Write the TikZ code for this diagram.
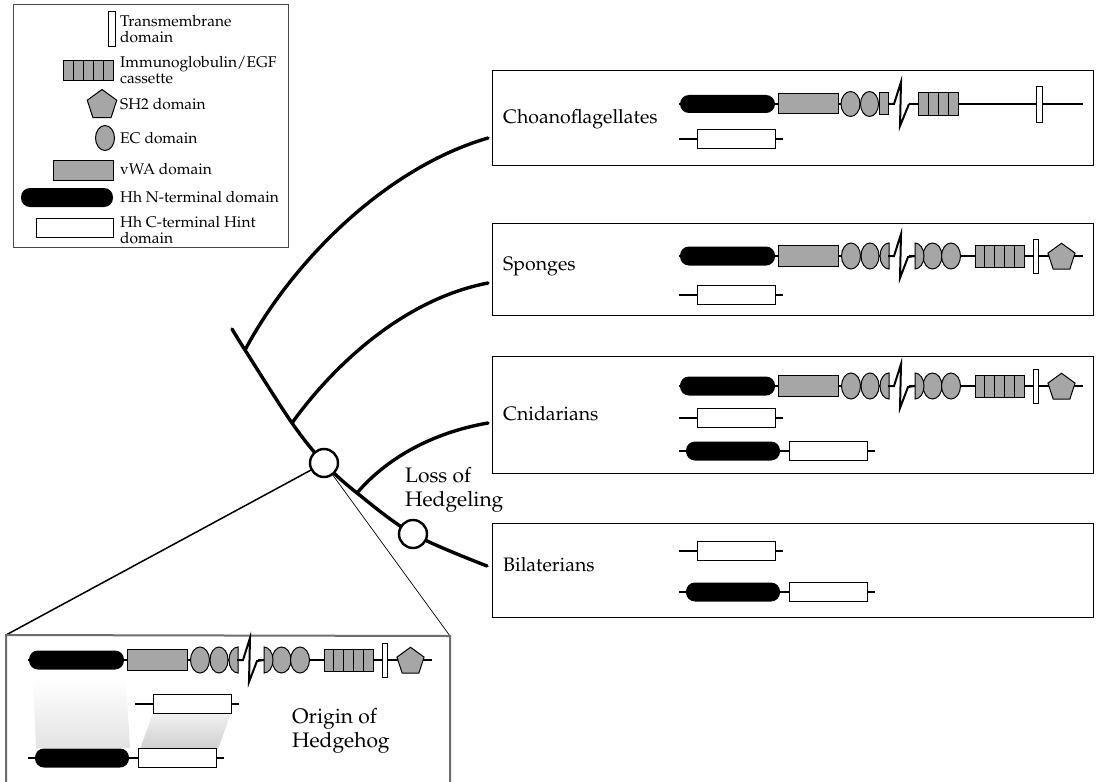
\documentclass[tikz,border=0pt]{standalone}
\usepackage[T1]{fontenc}
\usepackage{palatino}
\usetikzlibrary{shapes.geometric}
\definecolor{domgray}{RGB}{166,166,166}
\definecolor{insetgray}{RGB}{110,110,110}
\definecolor{leggray}{RGB}{70,70,70}
\newcommand\lfont{\fontsize{15.5}{16.5}\selectfont}
\newcommand\mfont{\fontsize{19.5}{23}\selectfont}
\newcommand\bfontx{\fontsize{21}{23.5}\selectfont}
\tikzset{
  dline/.style={line width=2pt},
  dom/.style={draw=black, line width=1pt},
  gdom/.style={dom, fill=domgray},
  wdom/.style={dom, fill=white},
  hhn/.style={fill=black, rounded corners=9pt},
  pent/.style={regular polygon, regular polygon sides=5, draw=black, line width=1pt, fill=domgray, inner sep=0pt, minimum size=28.5pt},
  branch/.style={line width=3.4pt, line cap=round},
  node circ/.style={circle, draw=black, line width=2.4pt, fill=white, minimum size=28pt, inner sep=0pt},
  cladebox/.style={draw=black, line width=1.2pt, anchor=north west, inner sep=0pt},
  clabel/.style={anchor=west, inner sep=0pt, font=\mfont},
  blabel/.style={anchor=west, inner sep=0pt, font=\bfontx, align=left},
  llabel/.style={anchor=west, inner sep=0pt, font=\lfont, align=left},
  zig/.style={line width=2pt, miter limit=20}
}
% full row (sponges / cnidarians / inset), relative to the line at y=0
\newcommand\fullrow[2]{%
\begin{scope}[shift={(#1,#2)}]
  \draw[dline] (679,0) -- (894,0);
  \draw[dline] (909,0) -- (1083,0);
  \fill[hhn] (680,-9.5) rectangle (775,9.5);
  \draw[gdom] (778,-10.5) rectangle (838,10.5);
  \draw[gdom] (851,0) ellipse [x radius=9.5pt, y radius=13pt];
  \draw[gdom] (870,0) ellipse [x radius=9pt, y radius=13pt];
  \draw[gdom] (889,-13) arc [start angle=90, end angle=270, x radius=9pt, y radius=13pt] -- cycle;
  \draw[zig] (888,0) -- (894,0) -- (901,-22) -- (900,22) -- (908,1) -- (915,0);
  \draw[gdom] (932.5,0) ellipse [x radius=9.5pt, y radius=13pt];
  \draw[gdom] (951,0) ellipse [x radius=9.5pt, y radius=13pt];
  \draw[gdom] (915,-13) arc [start angle=90, end angle=-90, x radius=9pt, y radius=13pt] -- cycle;
  \foreach \i in {0,...,4} \draw[gdom] (975+\i*9.8,-11) rectangle (984.8+\i*9.8,11);
  \draw[wdom] (1033,-17) rectangle (1038,17);
  \node[pent] at (1061.5,1.5) {};
\end{scope}}
% C-terminal only row
\newcommand\crow[2]{%
\begin{scope}[shift={(#1,#2)}]
  \draw[dline] (679,0) -- (783,0);
  \draw[wdom] (697,-9.5) rectangle (775,9.5);
\end{scope}}
% N + C row
\newcommand\ncrow[2]{%
\begin{scope}[shift={(#1,#2)}]
  \draw[dline] (679,0) -- (875,0);
  \fill[hhn] (686,-9.5) rectangle (780,9.5);
  \draw[wdom] (789,-9.5) rectangle (867,9.5);
\end{scope}}
\begin{document}
\begin{tikzpicture}[x=1pt,y=-1pt]
\useasboundingbox (0,0) rectangle (1099,781);
\fill[white] (0,0) rectangle (1099,781);

% ---------------- legend ----------------
\node[draw=leggray, line width=1.2pt, anchor=north west, inner sep=0pt, minimum width=275pt, minimum height=243pt] (legend) at (13,4) {};
\draw[wdom] (108,12) rectangle (115,47);
\foreach \i in {0,...,4} \draw[gdom] (63+\i*10,61) rectangle (73+\i*10,81);
\node[pent, minimum size=31pt] (legpent) at (102,105) {};
\draw[gdom] (105,138) ellipse [x radius=9.5pt, y radius=12.5pt];
\draw[gdom] (53,160) rectangle (113,180);
\fill[hhn] (21,188) rectangle (113,207);
\draw[wdom] (36,218) rectangle (113,237);
\node[llabel] (lt1) at (120,29) {Transmembrane\\domain};
\node[llabel] (lt2) at (120,70) {Immunoglobulin/EGF\\cassette};
\node[llabel] (lt3) at (120,104) {SH2 domain};
\node[llabel] (lt4) at (120,138) {EC domain};
\node[llabel] (lt5) at (120,169) {vWA domain};
\node[llabel] (lt6) at (120,197) {Hh N-terminal domain};
\node[llabel] (lt7) at (120,230) {Hh C-terminal Hint\\domain};

% ---------------- clade boxes ----------------
\node[cladebox, minimum width=601pt, minimum height=95pt] (bchoano) at (492,70) {};
\node[cladebox, minimum width=601pt, minimum height=92pt] (bsponge) at (492,223) {};
\node[cladebox, minimum width=601pt, minimum height=117pt] (bcnid) at (492,356) {};
\node[cladebox, minimum width=601pt, minimum height=94pt] (bbila) at (492,523) {};

\node[clabel] (tchoano) at (503,119) {Choanoflagellates};
\node[clabel] (tsponge) at (503,266) {Sponges};
\node[clabel] (tcnid) at (503,414) {Cnidarians};
\node[clabel] (tbila) at (503,565) {Bilaterians};

% choanoflagellate row
\begin{scope}[shift={(0,104)}]
  \draw[dline] (679,0) -- (894,0);
  \draw[dline] (909,0) -- (1083,0);
  \fill[hhn] (680,-9) rectangle (775,9);
  \draw[gdom] (778,-10) rectangle (838,10);
  \draw[gdom] (850.5,0) ellipse [x radius=9.5pt, y radius=12.5pt];
  \draw[gdom] (869.5,0) ellipse [x radius=9pt, y radius=12.5pt];
  \draw[gdom] (879,-11) rectangle (888,11);
  \draw[zig] (888,0) -- (894,0) -- (901,-22) -- (900,22) -- (909,0);
  \foreach \i in {0,...,3} \draw[gdom] (918+\i*10,-11) rectangle (928+\i*10,12);
  \draw[wdom] (1036,-17) rectangle (1042,18);
\end{scope}
\crow{0}{139}

% sponges
\fullrow{0}{256}
\crow{0}{295}

% cnidarians
\fullrow{0}{386}
\crow{0}{418}
\ncrow{0}{451}

% bilaterians
\crow{0}{551}
\ncrow{0}{592}

% ---------------- tree ----------------
\coordinate (root) at (232,329);
\coordinate (j1) at (245,350);
\coordinate (j2) at (292,423);
\coordinate (c1) at (324,463);
\coordinate (j3) at (357,493);
\coordinate (c2) at (413,534);
\coordinate (ebila) at (487,566);
\coordinate (echoano) at (488,138);
\coordinate (esponge) at (488,283);
\coordinate (ecnid) at (488,423);

\draw[branch] plot[smooth, tension=0.55] coordinates {(root) (j1) (j2) (c1) (j3) (c2) (ebila)};
\draw[branch] (j1) .. controls (292,262) and (385,168) .. (echoano);
\draw[branch] (j2) .. controls (330,370) and (400,300) .. (esponge);
\draw[branch] (j3) .. controls (385,460) and (430,433) .. (ecnid);

% inset and its connectors
\coordinate (inl) at (6,635);
\coordinate (inr) at (450,636);
\draw[line width=1.5pt] (c1) -- (inl);
\draw[line width=0.7pt] (c1) -- (inr);
\node[node circ] (n1) at (c1) {};
\node[node circ] (n2) at (c2) {};

\node[blabel] (tloss) at (405,490) {Loss of\\Hedgeling};

% ---------------- inset ----------------
\draw[insetgray, line width=2pt] (6,800) -- (inl) -- (inr) -- (450,800);
\shade[top color=white, bottom color=gray!22] (33,679) -- (126,679) -- (130,748) -- (36,748) -- cycle;
\shade[top color=gray!10, bottom color=gray!38] (153,713) -- (231,713) -- (218,749) -- (140,749) -- cycle;
\fullrow{-651}{660}
\crow{-544}{704}
\ncrow{-651}{758}
\node[blabel] (torigin) at (292,731) {Origin of\\Hedgehog};
\end{tikzpicture}
\end{document}
